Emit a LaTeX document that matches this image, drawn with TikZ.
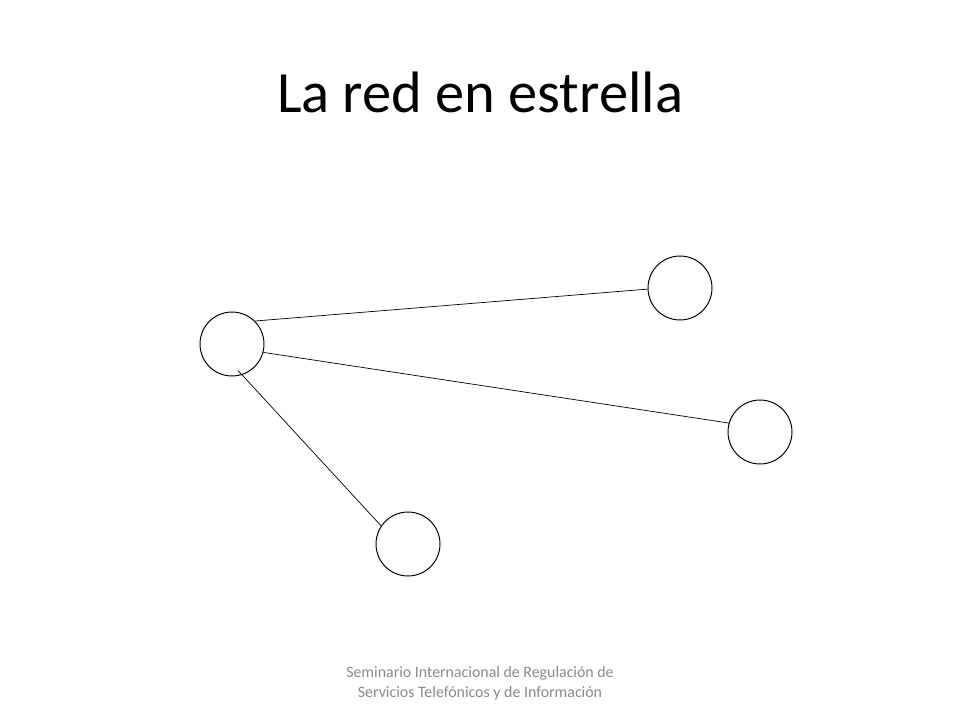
\documentclass[tikz,border=0pt]{standalone}
\usepackage{fontspec}
\setmainfont{Carlito}
\usepackage{tikz}
\definecolor{footgray}{RGB}{137,137,137}

\begin{document}
\begin{tikzpicture}[
    station/.style={draw, line width=0.7pt, circle, minimum size=1.6cm, inner sep=0pt},
    link/.style={line width=0.5pt}
  ]

\useasboundingbox (0,0) rectangle (24,18);

% title

\node[font=\fontsize{41.6}{50}\selectfont] (title) at (12, 15.7) {La red en estrella};

% hub node

\node[station] (hub) at (5.8, 9.4) {};

% outer nodes

\node[station] (n0) at (17.0, 10.8) {};
\node[station] (n1) at (19.0, 7.2) {};
\node[station] (n2) at (10.2, 4.4) {};

% hub to outer nodes
\draw [link] (hub.45) -- (n0.182);
\draw [link] (hub.-15) -- (n1.164);
\draw [link, shorten <=-0.15cm] (hub.-72) -- (n2.146);

% footer

\node[font=\fontsize{11.3}{14.5}\selectfont, text=footgray, align=center] (foot) at (12, 0.925)
  {Seminario Internacional de Regulación de\\Servicios Telefónicos y de Información};

\end{tikzpicture}
\end{document}
